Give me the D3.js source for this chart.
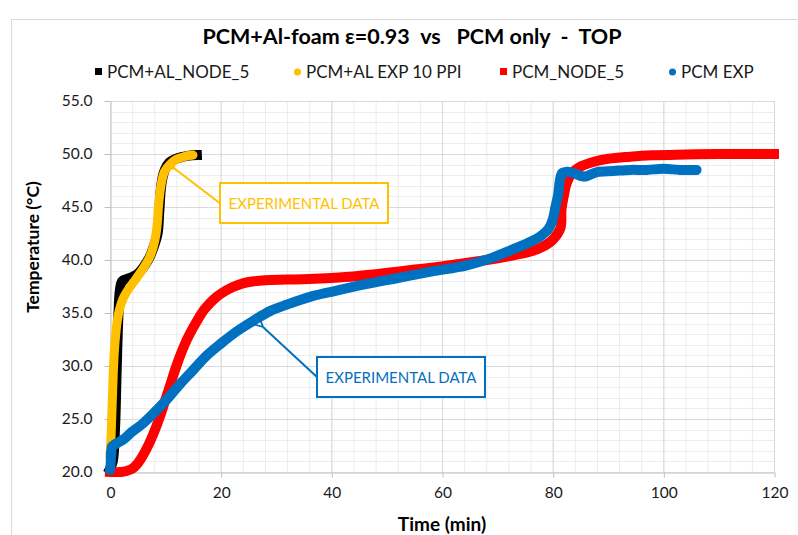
<!DOCTYPE html>
<html>
<head>
<meta charset="utf-8">
<script src="https://cdn.jsdelivr.net/npm/d3@7"></script>
<style>
	body { margin: 0; background: #fff; }
	text { font-family: Lato, "Open Sans", sans-serif; }
</style>
</head>
<body>
<svg id="chart" width="798" height="535"></svg>
<script>
// PCM + Al foam, numerical node 5
var alNodeTime = [0, 0.5, 0.9, 1.2, 1.5, 1.8, 2.2, 3.0, 4.0, 5.0, 6.0, 7.0, 7.8, 8.6, 8.9, 9.3, 9.9, 10.7, 11.7, 12.9, 14.3, 15.7]
var alNodeTemp = [20.3, 21.0, 24.0, 29.5, 34.5, 37.2, 38.0, 38.2, 38.4, 38.7, 39.3, 40.1, 41.1, 42.5, 44.5, 47.2, 48.5, 49.2, 49.5, 49.7, 49.85, 49.9]

// PCM + Al foam, experiment 10 PPI
var alExpTime = [0, 0.2, 0.4, 0.6, 0.8, 1.0, 1.3, 1.7, 2.4, 3.4, 4.8, 6.0, 7.1, 7.8, 8.3, 8.6, 8.8, 9.3, 9.9, 10.8, 12.0, 13.4, 15.0]
var alExpTemp = [21.5, 23.5, 26.5, 29.5, 31.5, 32.8, 34.2, 35.3, 36.4, 37.3, 38.3, 39.2, 40.2, 41.2, 42.4, 43.8, 45.3, 47.3, 48.4, 49.0, 49.5, 49.75, 49.9]

// PCM only, numerical node 5
var pcmNodeTime = [0, 2, 3, 4, 5, 6, 7, 8, 9, 10, 11, 12, 13, 14, 15, 16, 17, 18, 19, 20, 22, 24, 26, 28, 32, 36, 40, 44, 48, 52, 56, 60, 64, 68, 72, 76, 78, 80, 81.4, 81.6, 82, 82.5, 83.5, 85, 87, 90, 94, 98, 104, 110, 120]
var pcmNodeTemp = [20, 20, 20.1, 20.3, 20.8, 21.6, 22.6, 23.8, 25.2, 26.8, 28.4, 30, 31.4, 32.6, 33.6, 34.5, 35.3, 35.9, 36.4, 36.8, 37.4, 37.8, 38, 38.1, 38.15, 38.2, 38.3, 38.45, 38.65, 38.9, 39.15, 39.4, 39.7, 40, 40.35, 40.8, 41.2, 41.9, 43, 44.8, 46, 47.2, 48.2, 48.8, 49.2, 49.55, 49.75, 49.88, 49.95, 50, 50]

// PCM only, experiment
var pcmExpTime = [0, 0.1, 0.15, 0.2, 0.25, 0.35, 0.6, 1.2, 2.5, 4, 6, 8, 10.2, 12.5, 15, 17.5, 20, 23, 26, 29, 32, 36, 40, 46, 52, 58, 64.5, 69, 72.8, 75.5, 77.7, 79.2, 80.0, 80.5, 81.0, 81.3, 81.7, 82.3, 83.0, 84.3, 85.3, 86.1, 87.0, 88, 91, 94, 97, 100, 103, 106]
var pcmExpTemp = [20.2, 20.6, 21.3, 22.0, 21.6, 22.4, 22.5, 22.7, 23.1, 23.8, 24.6, 25.6, 26.8, 28.2, 29.6, 31.0, 32.1, 33.3, 34.3, 35.2, 35.8, 36.5, 37.0, 37.7, 38.3, 38.9, 39.5, 40.2, 41.0, 41.6, 42.2, 42.9, 43.8, 45.0, 46.2, 47.5, 48.2, 48.3, 48.3, 48.1, 47.9, 47.9, 48.1, 48.3, 48.4, 48.5, 48.5, 48.6, 48.5, 48.5]

var xTicks = [0, 20, 40, 60, 80, 100, 120]
var yTicks = [20, 25, 30, 35, 40, 45, 50, 55]

var series = [
	{name: "PCM+AL_NODE_5", time: alNodeTime, temp: alNodeTemp, color: "#000000", shape: "square", width: 10},
	{name: "PCM+AL EXP 10 PPI", time: alExpTime, temp: alExpTemp, color: "#FFC000", shape: "circle", width: 9},
	{name: "PCM_NODE_5", time: pcmNodeTime, temp: pcmNodeTemp, color: "#FF0000", shape: "square", width: 10},
	{name: "PCM EXP", time: pcmExpTime, temp: pcmExpTemp, color: "#0070C0", shape: "circle", width: 10}
]

var svg = d3.select("#chart")

svg.append("rect")
.attr("x", 11.5).attr("y", 19.5)
.attr("width", 800).attr("height", 530)
.attr("fill", "#fff")
.attr("stroke", "#d9d9d9")

var x = d3.scaleLinear().domain([0, 120]).range([110, 774])
var y = d3.scaleLinear().domain([20, 55]).range([472, 101])

// minor grid
var grid = svg.append("g")
grid.selectAll(".vminor")
.data(d3.range(0, 121, 4))
.join("line")
.attr("x1", d => x(d) + 0.5).attr("x2", d => x(d) + 0.5)
.attr("y1", y(20)).attr("y2", y(55))
.attr("stroke", "#ececec")

grid.selectAll(".hminor")
.data(d3.range(20, 55.5, 1))
.join("line")
.attr("y1", d => Math.round(y(d)) + 0.5).attr("y2", d => Math.round(y(d)) + 0.5)
.attr("x1", x(0)).attr("x2", x(120))
.attr("stroke", "#ececec")

// major grid
grid.selectAll(".vmajor")
.data(xTicks.slice(1))
.join("line")
.attr("x1", d => x(d) + 0.5).attr("x2", d => x(d) + 0.5)
.attr("y1", y(20)).attr("y2", y(55))
.attr("stroke", "#d9d9d9")

grid.selectAll(".hmajor")
.data(yTicks.slice(1))
.join("line")
.attr("y1", d => Math.round(y(d)) + 0.5).attr("y2", d => Math.round(y(d)) + 0.5)
.attr("x1", x(0)).attr("x2", x(120))
.attr("stroke", "#d9d9d9")

// axes
svg.append("g")
.attr("transform", "translate(0.5," + (Math.round(y(20)) + 0.5) + ")")
.call(d3.axisBottom(x).tickValues(xTicks).tickFormat(d3.format("d")).tickSize(5).tickPadding(9).tickSizeOuter(0))

svg.append("g")
.attr("transform", "translate(" + (x(0) + 0.5) + ",0)")
.call(d3.axisLeft(y).tickValues(yTicks).tickFormat(d3.format(".1f")).tickSize(6).tickPadding(12).tickSizeOuter(0))

svg.selectAll(".domain, .tick line").attr("stroke", "#bfbfbf")
svg.selectAll(".tick text")
.attr("fill", "#1a1a1a")
.style("font-size", "15.5px")
.style("font-family", "Lato, sans-serif")

// series
var line = d3.line()
.x(d => x(d[0]))
.y(d => y(d[1]))
.curve(d3.curveCatmullRom.alpha(0.5))

svg.append("g")
.selectAll("path")
.data(series)
.join("path")
.attr("d", s => line(d3.zip(s.time, s.temp)))
.attr("fill", "none")
.attr("stroke", s => s.color)
.attr("stroke-width", s => s.width)
.attr("stroke-linecap", s => s.shape == "square" ? "square" : "round")
.attr("stroke-linejoin", "round")

// title
svg.append("text")
.attr("x", 412).attr("y", 44)
.attr("text-anchor", "middle")
.style("font-size", "21.5px")
.style("font-weight", "bold")
.style("white-space", "pre")
.text("PCM+Al-foam \u03b5=0.93  vs   PCM only  -  TOP")

// legend
var legendPos = [95, 294, 500, 669]
var legend = svg.append("g")
.selectAll("g")
.data(series)
.join("g")
.attr("transform", (s, i) => "translate(" + legendPos[i] + ",72)")

legend.filter(s => s.shape == "square")
.append("rect")
.attr("x", 0).attr("y", -4)
.attr("width", 7).attr("height", 7)
.attr("fill", s => s.color)

legend.filter(s => s.shape == "circle")
.append("circle")
.attr("cx", 3.5).attr("cy", 0)
.attr("r", 3.5)
.attr("fill", s => s.color)

legend.append("text")
.attr("x", 12).attr("y", 6)
.style("font-size", "17px")
.attr("fill", "#1a1a1a")
.text(s => s.name)

// axis titles
svg.append("text")
.attr("transform", "translate(39,247) rotate(-90)")
.attr("text-anchor", "middle")
.style("font-size", "17.5px")
.style("font-weight", "bold")
.text("Temperature (\u00b0C)")

svg.append("text")
.attr("x", 442).attr("y", 531)
.attr("text-anchor", "middle")
.style("font-size", "19px")
.style("font-weight", "bold")
.text("Time (min)")

// annotations
function arrowHead(id, color) {
	svg.append("defs").append("marker")
	.attr("id", id)
	.attr("viewBox", "0 0 10 10")
	.attr("refX", 1).attr("refY", 5)
	.attr("markerWidth", 6).attr("markerHeight", 6)
	.attr("orient", "auto-start-reverse")
	.append("path")
	.attr("d", "M9,1 L1,5 L9,9")
	.attr("fill", "none")
	.attr("stroke", color)
	.attr("stroke-width", 1.5)
}

function note(color, id, box, from, to) {
	arrowHead(id, color)
	svg.append("line")
	.attr("x1", from[0]).attr("y1", from[1])
	.attr("x2", to[0]).attr("y2", to[1])
	.attr("stroke", color)
	.attr("stroke-width", 2)
	.attr("marker-start", "url(#" + id + ")")
	svg.append("rect")
	.attr("x", box[0]).attr("y", box[1])
	.attr("width", box[2]).attr("height", box[3])
	.attr("fill", "#fff")
	.attr("stroke", color)
	.attr("stroke-width", 2)
	svg.append("text")
	.attr("x", box[0] + box[2] / 2).attr("y", box[1] + box[3] / 2 + 5.5)
	.attr("text-anchor", "middle")
	.style("font-size", "15px")
	.attr("fill", color)
	.text("EXPERIMENTAL DATA")
}

note("#FFC000", "arrowY", [220, 183, 168, 40], [175, 169], [221, 204])
note("#0070C0", "arrowB", [317, 357, 168, 40], [263, 327], [318, 378])
</script>
</body>
</html>
